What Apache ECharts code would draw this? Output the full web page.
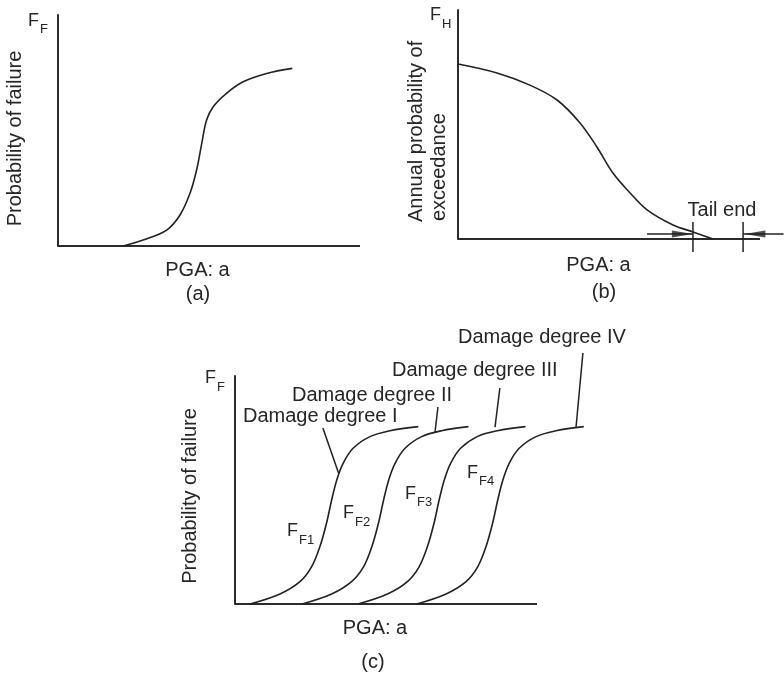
<!DOCTYPE html>
<html><head><meta charset="utf-8">
<script src="https://cdn.jsdelivr.net/npm/echarts@6/dist/echarts.min.js"></script>
<style>html,body{margin:0;padding:0;background:#fff}#c{width:784px;height:676px}</style>
</head><body><div id="c"></div>
<script>
// ---- data (schematic units: the drawn axis spans 0..100 on both axes) ----
const curveA = [[21.6,0],[28.2,2.6],[36.0,6.9],[40.4,13.4],[43.7,22.8],[45.9,32.9],[47.6,44.4],[49.2,54.5],[51.4,60.3],[55.8,66.1],[61.3,71.1],[69.1,74.7],[77.6,76.9]];
const curveB = [[0,76.4],[12.9,72.5],[23.8,67.2],[32.8,60.7],[40.4,50.7],[46,40.2],[51.3,28.8],[57,20.1],[62.6,12.7],[71.2,6.1],[77.8,3.1],[84.4,0]];
const curveF1 = [[5.0,0],[14.9,4.4],[21.5,9.8],[25.4,16.4],[28.1,25.1],[30.3,35.4],[32.0,45.6],[33.7,54.4],[35.8,61.7],[39.1,68.3],[44.7,73.4],[51.3,76.0],[60.7,77.8]];
const curveF2 = [[22.2,0],[32.0,4.4],[38.6,9.8],[42.6,16.4],[45.3,25.1],[47.5,35.4],[49.2,45.6],[50.9,54.4],[53.0,61.7],[56.3,68.3],[61.8,73.4],[68.4,76.0],[77.3,77.8]];
const curveF3 = [[40.7,0],[50.5,4.4],[57.1,9.8],[61.0,16.4],[63.7,25.1],[65.9,35.4],[67.6,45.6],[69.3,54.4],[71.4,61.7],[74.7,68.3],[80.2,73.4],[86.9,76.0],[96.2,77.8]];
const curveF4 = [[60.2,0],[69.9,4.4],[76.5,9.8],[80.4,16.4],[83.1,25.1],[85.3,35.4],[87.0,45.6],[88.7,54.4],[90.8,61.7],[94.1,68.3],[99.7,73.4],[106.3,76.0],[115.5,77.8]];
const axisEnd = 100;
const tailTicks = [77.8, 94.4];
const tailTickSpan = [7.4, -5.7];
const tailArrowY = 2.2;
const tailArrowLeft = [62.6, 77.8];
const tailArrowRight = [107.8, 94.4];
const tailHeadCenters = [74.3, 98.3];
const leaderLines = [
  [[29.1,77.2],[34.4,57.0]],
  [[67.2,86.4],[66.2,75.0]],
  [[87.7,94.7],[86.1,77.6]],
  [[115.2,110.1],[112.9,77.2]]
];
const damageLabels = ['Damage degree I','Damage degree II','Damage degree III','Damage degree IV'];
const curveSubs = ['F1','F2','F3','F4'];

// ---- style ----
const INK = '#222';
const AXIS = '#2b2b2b';
const FONT = '"Liberation Sans", Arial, sans-serif';
const PXU = 3.02; // pixels per unit horizontally
const xMax = [100, 107.9, 120];

function mkX(i){return {type:'value', gridIndex:i, min:0, max:xMax[i], axisLine:{show:false}, axisTick:{show:false}, axisLabel:{show:false}, splitLine:{show:false}};}
function mkY(i){return {type:'value', gridIndex:i, min:0, max:100, axisLine:{lineStyle:{color:AXIS, width:2}}, axisTick:{show:false}, axisLabel:{show:false}, splitLine:{show:false}};}
function curve(i, data){return {type:'line', xAxisIndex:i, yAxisIndex:i, data:data, smooth:0.35, showSymbol:false, symbol:'none', clip:false, silent:true, lineStyle:{color:INK, width:1.6}};}
function seg(i, data, w, c){return {type:'line', xAxisIndex:i, yAxisIndex:i, data:data, showSymbol:false, symbol:'none', clip:false, silent:true, lineStyle:{color:c||INK, width:w||1.5}};}

function txt(x,y,s,size,o){
  o=o||{};
  return {type:'text', x:x, y:y, rotation:o.rot||0, silent:true,
    style:{text:s, font:size+'px '+FONT, fill:'#262626', align:o.align||'center', verticalAlign:'middle'}};
}
function subLabel(x,y,main,sub){
  return [txt(x,y,main,18,{align:'left'}), txt(x+12,y+8.5,sub,13,{align:'left'})];
}

const series = [];
// horizontal axis lines (drawn to the axis end; the grids are wider for overflow marks)
[0,1,2].forEach(i=>series.push(seg(i, [[0,0],[axisEnd,0]], 2, AXIS)));
series.push(curve(0, curveA));
series.push(curve(1, curveB));
[curveF1,curveF2,curveF3,curveF4].forEach(c=>series.push(curve(2,c)));
tailTicks.forEach(t=>series.push(seg(1, [[t,tailTickSpan[0]],[t,tailTickSpan[1]]], 1.5)));
series.push(seg(1, tailArrowLeft.map(x=>[x,tailArrowY]), 1.5));
series.push(seg(1, tailArrowRight.map(x=>[x,tailArrowY]), 1.5));
series.push({type:'scatter', xAxisIndex:1, yAxisIndex:1, clip:false, silent:true,
  data:[{value:[tailHeadCenters[0],tailArrowY], symbolRotate:-90},{value:[tailHeadCenters[1],tailArrowY], symbolRotate:90}],
  symbol:'triangle', symbolSize:[7,21], itemStyle:{color:INK}});
leaderLines.forEach(l=>series.push(seg(2, l, 1.5)));

let graphic = [];
// panel a
graphic = graphic.concat(subLabel(28,21,'F','F'));
graphic.push(txt(15.5,138.5,'Probability of failure',20,{rot:Math.PI/2}));
graphic.push(txt(197.5,270,'PGA: a',20));
graphic.push(txt(198,294,'(a)',20));
// panel b
graphic = graphic.concat(subLabel(430,15.5,'F','H'));
graphic.push(txt(416,222,'Annual probability of',20,{rot:Math.PI/2, align:'left'}));
graphic.push(txt(439,221,'exceedance',20,{rot:Math.PI/2, align:'left'}));
graphic.push(txt(722,210,'Tail end',20));
graphic.push(txt(598.5,265,'PGA: a',20));
graphic.push(txt(604,292,'(b)',20));
// panel c
graphic = graphic.concat(subLabel(205,378.5,'F','F'));
graphic.push(txt(190.5,496,'Probability of failure',20,{rot:Math.PI/2}));
graphic.push(txt(375,628,'PGA: a',20));
graphic.push(txt(373,662,'(c)',20));
const ddPos = [[243,416.7],[292,395],[392,370],[458,337.7]];
damageLabels.forEach((s,i)=>graphic.push(txt(ddPos[i][0],ddPos[i][1],s,20,{align:'left'})));
const subPos = [[287,531.5],[343,513.5],[405,494],[467,473]];
curveSubs.forEach((s,i)=>{graphic = graphic.concat(subLabel(subPos[i][0],subPos[i][1],'F',s));});

const chart = echarts.init(document.getElementById('c'), null, {renderer:'canvas'});
chart.setOption({
  animation:false,
  backgroundColor:'#fff',
  grid:[
    {left:58, top:15, width:xMax[0]*PXU, height:231},
    {left:458, top:10, width:xMax[1]*PXU, height:229},
    {left:235, top:376, width:xMax[2]*PXU, height:228}
  ],
  xAxis:[mkX(0),mkX(1),mkX(2)],
  yAxis:[mkY(0),mkY(1),mkY(2)],
  series:series,
  graphic:graphic
});
</script></body></html>
